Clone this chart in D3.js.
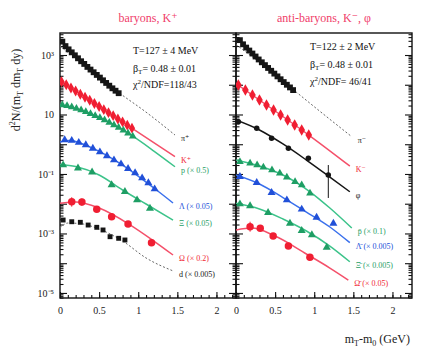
<!DOCTYPE html>
<html>
<head>
<meta charset="utf-8">
<script src="https://cdn.jsdelivr.net/npm/d3@7"></script>
<style>
  html, body { margin: 0; padding: 0; background: #fff; }
  svg { display: block; font-family: "Liberation Serif", "DejaVu Serif", serif; }
</style>
</head>
<body>
<svg id="chart" width="428" height="351"></svg>
<script>
// ---- tick labels ----
const xTickValues = [0, 0.5, 1, 1.5, 2];
const xTickLabels = ["0", "0.5", "1", "1.5", "2"];
const yTickValues = [1e3, 1e1, 1e-1, 1e-3, 1e-5];
const yTickLabels = ["10³", "10", "10⁻¹", "10⁻³", "10⁻⁵"];

// ---- panel headers and fit results ----
const panelTitles = ["baryons, K⁺", "anti-baryons, K⁻, φ"];
const fitTemperature = ["T=127 ± 4 MeV", "T=122 ± 2 MeV"];
const fitBeta = ["= 0.48 ± 0.01", "= 0.48 ± 0.01"];
const fitChi2 = ["/NDF=118/43", "/NDF= 46/41"];

// ---- measured spectra: [mT - m0 (GeV), d²N/(mT dmT dy)] ----
const piPlus = [[0.03,2820],[0.07,1995],[0.11,1549],[0.15,1230],[0.19,977],[0.23,776],[0.27,617],[0.31,501],[0.35,398],[0.39,324],[0.43,263],[0.47,214],[0.51,174],[0.55,141],[0.59,115],[0.63,93],[0.67,76],[0.71,63],[0.75,52]];
const kPlus = [[0.02,126],[0.08,100],[0.14,77.6],[0.20,61.7],[0.26,47.9],[0.32,38.0],[0.38,30.2],[0.44,23.4],[0.50,18.6],[0.56,14.5],[0.62,11.5],[0.68,9.12],[0.74,7.08],[0.80,5.62],[0.86,4.37],[0.92,3.47]];
const proton = [[0.03,20.8],[0.09,19.6],[0.15,17.9],[0.21,16.0],[0.27,14.2],[0.33,12.3],[0.39,10.6],[0.45,9.10],[0.51,7.73],[0.57,6.52],[0.63,5.42],[0.69,4.47],[0.75,3.65],[0.81,2.94],[0.87,2.35],[0.93,1.86]];
const lambda = [[0.06,1.39],[0.15,1.33],[0.24,1.14],[0.33,0.942],[0.42,0.718],[0.51,0.547],[0.60,0.402],[0.69,0.294],[0.78,0.216],[0.87,0.152],[0.96,0.108],[1.05,0.0731],[1.13,0.0497],[1.21,0.0312]];
const xi = [[0.04,0.200],[0.23,0.158],[0.41,0.116],[0.66,0.0426],[0.83,0.0253],[0.985,0.0133],[1.15,0.0070]];
const omega = [[0.15,0.0117],[0.28,0.0115],[0.47,0.00649],[0.66,0.00366],[0.87,0.00208],[1.17,0.000489]];
const deuteron = [[0.04,0.00283],[0.15,0.00248],[0.26,0.00237],[0.36,0.00192],[0.47,0.00161],[0.55,0.00131],[0.64,0.000778],[0.75,0.000687],[0.83,0.000603]];

const piMinus = [[0.05,3162],[0.09,2291],[0.13,1778],[0.17,1413],[0.21,1122],[0.25,891],[0.29,708],[0.33,569],[0.37,457],[0.41,367],[0.45,295],[0.49,237],[0.53,191],[0.57,153],[0.61,123],[0.65,100],[0.69,81.3],[0.73,66.1]];
const kMinus = [[0.03,97.9],[0.12,66.5],[0.21,45.2],[0.30,30.7],[0.39,20.8],[0.48,14.2],[0.57,9.62],[0.66,6.52],[0.75,4.43],[0.84,3.01],[0.93,2.04]];
const phi = [[0.03,5.71],[0.265,3.43],[0.455,1.58],[0.67,0.729],[0.925,0.336],[1.18,0.0923]];
const antiProton = [[0.05,0.258],[0.18,0.228],[0.27,0.200],[0.35,0.168],[0.46,0.136],[0.56,0.105],[0.65,0.0773],[0.755,0.0550],[0.84,0.0426],[0.946,0.0224]];
const antiLambda = [[0.05,0.0809],[0.265,0.0508],[0.455,0.0234],[0.65,0.0133],[0.84,0.00649],[1.03,0.00349],[1.245,0.00219]];
const antiXi = [[0.05,0.00977],[0.18,0.00838],[0.41,0.00498],[0.69,0.00219],[0.84,0.00124],[0.97,0.000887],[1.16,0.000342]];
const antiOmega = [[0.18,0.00169],[0.31,0.00149],[0.475,0.00082],[0.67,0.000378],[0.945,0.000158]];

// ---- error bars: [mT - m0, low, high] ----
const omegaErrors = [[0.15,0.00798,0.0165],[0.28,0.0085,0.0150]];
const phiErrors = [[1.18,0.0156,0.2]];
const antiOmegaErrors = [[0.18,0.00115,0.00248]];

// ---- blast-wave fit curves ----
const piPlusFit = [[0,1995],[0.4,295],[0.75,55],[1.1,12.0],[1.47,2.04]];
const kPlusFit = [[0,138],[0.5,18.6],[1.0,2.51],[1.47,0.38]];
const protonFit = [[0,21.4],[0.3,13.2],[0.6,5.96],[0.93,1.86],[1.2,0.59],[1.47,0.175]];
const lambdaFit = [[0,1.19],[0.12,1.33],[0.4,0.77],[0.8,0.2],[1.2,0.0337],[1.445,0.0106]];
const xiFit = [[0,0.208],[0.2,0.178],[0.5,0.0923],[0.8,0.0289],[1.1,0.00977],[1.445,0.00283]];
const omegaFit = [[0,0.0103],[0.2,0.0114],[0.5,0.00716],[0.9,0.00192],[1.2,0.000557],[1.445,0.000189]];
const deuteronFit = [[0,0.00152],[0.1,0.00224],[0.25,0.00216],[0.5,0.00141],[0.8,0.000557],[1.1,0.000150],[1.445,5.5e-5]];

const piMinusFit = [[0,2239],[0.4,355],[0.73,69.2],[1.1,11.2],[1.48,1.79]];
const kMinusFit = [[0,110],[0.5,13.1],[0.93,2.04],[1.455,0.185]];
const phiFit = [[0,6.52],[0.3,3.01],[0.6,1.02],[0.9,0.294],[1.2,0.079],[1.455,0.0253]];
const antiProtonFit = [[0,0.294],[0.3,0.185],[0.6,0.0923],[0.95,0.0247],[1.2,0.00716],[1.48,0.00152]];
const antiLambdaFit = [[0,0.0923],[0.3,0.046],[0.6,0.0161],[0.9,0.00526],[1.2,0.00165],[1.455,0.000489]];
const antiXiFit = [[0,0.0103],[0.3,0.00664],[0.6,0.00306],[0.9,0.00121],[1.2,0.000378],[1.455,0.000112]];
const antiOmegaFit = [[0,0.00131],[0.2,0.00152],[0.5,0.00082],[0.9,0.000204],[1.2,6.89e-5],[1.436,2.72e-5]];

// ---- series labels ----
const leftLabels = ["π⁺", "K⁺", "p (× 0.5)", "Λ (× 0.05)", "Ξ (× 0.05)", "Ω (× 0.2)", "d (× 0.005)"];
const rightLabels = ["π⁻", "K⁻", "φ", "p̄ (× 0.1)", "Λ̄ (× 0.005)", "Ξ̄ (× 0.005)", "Ω̄ (× 0.05)"];

// ---- colours ----
const BLACK = "#151515", RED = "#f01e32", PINK = "#f4506a", GREEN = "#1e9e64", LGREEN = "#3cc38a", BLUE = "#2150d8", LBLUE = "#3a70ec";

const panels = [
  { series: [
      { data: piPlus, fit: piPlusFit, label: leftLabels[0], color: BLACK, line: "#666", dashed: true, sym: d3.symbolSquare, size: 34 },
      { data: kPlus, fit: kPlusFit, label: leftLabels[1], color: RED, line: PINK, sym: d3.symbolDiamond, size: 34 },
      { data: proton, fit: protonFit, label: leftLabels[2], color: GREEN, line: LGREEN, sym: d3.symbolTriangle, size: 26 },
      { data: lambda, fit: lambdaFit, label: leftLabels[3], color: BLUE, line: LBLUE, sym: d3.symbolTriangle, size: 28 },
      { data: xi, fit: xiFit, label: leftLabels[4], color: GREEN, line: LGREEN, sym: d3.symbolTriangle, size: 28 },
      { data: omega, fit: omegaFit, label: leftLabels[5], color: RED, line: PINK, sym: d3.symbolCircle, size: 44, errors: omegaErrors },
      { data: deuteron, fit: deuteronFit, label: leftLabels[6], color: BLACK, line: "#666", dashed: true, sym: d3.symbolSquare, size: 24 }
    ] },
  { series: [
      { data: piMinus, fit: piMinusFit, label: rightLabels[0], color: BLACK, line: "#666", dashed: true, sym: d3.symbolSquare, size: 34 },
      { data: kMinus, fit: kMinusFit, label: rightLabels[1], color: RED, line: PINK, sym: d3.symbolDiamond, size: 38 },
      { data: phi, fit: phiFit, label: rightLabels[2], color: BLACK, line: BLACK, sym: d3.symbolCircle, size: 24, errors: phiErrors },
      { data: antiProton, fit: antiProtonFit, label: rightLabels[3], color: GREEN, line: LGREEN, sym: d3.symbolTriangle, size: 26 },
      { data: antiLambda, fit: antiLambdaFit, label: rightLabels[4], color: BLUE, line: LBLUE, sym: d3.symbolTriangle, size: 28 },
      { data: antiXi, fit: antiXiFit, label: rightLabels[5], color: GREEN, line: LGREEN, sym: d3.symbolTriangle, size: 28 },
      { data: antiOmega, fit: antiOmegaFit, label: rightLabels[6], color: RED, line: PINK, sym: d3.symbolCircle, size: 44, errors: antiOmegaErrors }
    ] }
];

const svg = d3.select("#chart");
const plotTop = 33, plotBottom = 298;
const panelX = [[60, 236], [236, 412]];

const y = d3.scaleLog().domain([Math.pow(10, -5.17), Math.pow(10, 3.74)]).range([plotBottom, plotTop]);

// minor decade ticks 2..9 × 10^k
const minorY = [];
for (let k = -6; k <= 3; k++) for (let m = 2; m <= 9; m++) {
  const v = m * Math.pow(10, k);
  if (v > y.domain()[0] && v < y.domain()[1]) minorY.push(v);
}
const majorY = d3.range(-5, 4).map(k => Math.pow(10, k));
const minorX = d3.range(0, 23).map(i => i / 10);

function styleAxis(g) {
  g.select(".domain").remove();
  g.selectAll(".tick line").attr("stroke", "#111").attr("stroke-width", 1.1);
  g.selectAll(".tick text").attr("fill", "#222").attr("font-family", "Liberation Serif, serif").attr("font-size", 10);
}

panels.forEach((panel, pi) => {
  const [x0, x1] = panelX[pi];
  const x = d3.scaleLinear().domain([0, 2.25]).range([x0, x1]);

  const clipId = "clip" + pi;
  svg.append("clipPath").attr("id", clipId)
    .append("rect").attr("x", x0).attr("y", plotTop).attr("width", x1 - x0).attr("height", plotBottom - plotTop);

  // x axis: major + minor ticks pointing inward
  svg.append("g").attr("transform", `translate(0,${plotBottom})`)
    .call(d3.axisBottom(x).tickValues(minorX).tickSize(-3).tickFormat(""))
    .call(styleAxis);
  svg.append("g").attr("transform", `translate(0,${plotBottom})`)
    .call(d3.axisBottom(x).tickValues(xTickValues).tickSize(-6).tickPadding(9)
      .tickFormat((d, i) => xTickLabels[i]))
    .call(styleAxis);

  // y ticks on both vertical edges of the panel
  svg.append("g").attr("transform", `translate(${x0},0)`)
    .call(d3.axisLeft(y).tickValues(minorY).tickSize(-3.5).tickFormat(""))
    .call(styleAxis);
  svg.append("g").attr("transform", `translate(${x0},0)`)
    .call(d3.axisLeft(y).tickValues(majorY).tickSize(-7).tickFormat(""))
    .call(styleAxis);
  svg.append("g").attr("transform", `translate(${x1},0)`)
    .call(d3.axisRight(y).tickValues(minorY).tickSize(-3.5).tickFormat(""))
    .call(styleAxis);
  svg.append("g").attr("transform", `translate(${x1},0)`)
    .call(d3.axisRight(y).tickValues(majorY).tickSize(-7).tickFormat(""))
    .call(styleAxis);

  if (pi === 0) {
    svg.append("g").attr("transform", `translate(${x0},0)`)
      .call(d3.axisLeft(y).tickValues(yTickValues).tickSize(0).tickPadding(6)
        .tickFormat((d, i) => yTickLabels[i]))
      .call(styleAxis);
  }

  // frame
  svg.append("rect").attr("x", x0).attr("y", plotTop).attr("width", x1 - x0).attr("height", plotBottom - plotTop)
    .attr("fill", "none").attr("stroke", "#111").attr("stroke-width", 1.4);

  const plot = svg.append("g").attr("clip-path", `url(#${clipId})`);
  const line = d3.line().x(d => x(d[0])).y(d => y(d[1])).curve(d3.curveMonotoneX);

  panel.series.forEach(s => {
    plot.append("path").datum(s.fit)
      .attr("d", line).attr("fill", "none")
      .attr("stroke", s.line).attr("stroke-width", s.dashed ? 1 : 1.5)
      .attr("stroke-dasharray", s.dashed ? "2,2" : null);

    if (s.errors) {
      plot.selectAll(null).data(s.errors).join("line")
        .attr("x1", d => x(d[0])).attr("x2", d => x(d[0]))
        .attr("y1", d => y(d[1])).attr("y2", d => y(d[2]))
        .attr("stroke", s.color).attr("stroke-width", 1);
    }

    const sym = d3.symbol().type(s.sym).size(s.size);
    plot.selectAll(null).data(s.data).join("path")
      .attr("d", sym)
      .attr("transform", d => `translate(${x(d[0])},${y(d[1])})`)
      .attr("fill", s.color);

    const end = s.fit[s.fit.length - 1];
    svg.append("text")
      .attr("x", x(end[0]) + 6).attr("y", y(end[1]) + 3)
      .attr("dy", "0.35em")
      .attr("font-size", 8).attr("fill", s.color)
      .text(s.label);
  });

  // panel header
  svg.append("text").attr("x", (x0 + x1) / 2).attr("y", 22)
    .attr("text-anchor", "middle").attr("font-size", 12).attr("fill", "#f0406a")
    .text(panelTitles[pi]);

  // fit results
  const tx = pi === 0 ? 133 : 310;
  const ty = pi === 0 ? [54, 72, 88] : [50, 68, 85];
  const info = svg.append("g").attr("font-size", 10).attr("fill", "#111");
  info.append("text").attr("x", tx).attr("y", ty[0]).text(fitTemperature[pi]);
  const b = info.append("text").attr("x", tx).attr("y", ty[1]);
  b.append("tspan").text("β");
  b.append("tspan").attr("font-size", 7).attr("dy", 2).text("T");
  b.append("tspan").attr("dy", -2).text(fitBeta[pi]);
  const c = info.append("text").attr("x", tx).attr("y", ty[2]);
  c.append("tspan").text("χ");
  c.append("tspan").attr("font-size", 7).attr("dy", -4).text("2");
  c.append("tspan").attr("dy", 4).text(fitChi2[pi]);
});

// axis titles
const yt = svg.append("text")
  .attr("transform", "translate(20,90) rotate(-90)")
  .attr("text-anchor", "middle").attr("font-size", 12).attr("fill", "#222");
yt.append("tspan").text("d");
yt.append("tspan").attr("font-size", 8).attr("dy", -5).text("2");
yt.append("tspan").attr("dy", 5).text("N/(m");
yt.append("tspan").attr("font-size", 8).attr("dy", 3).text("T");
yt.append("tspan").attr("dy", -3).text(" dm");
yt.append("tspan").attr("font-size", 8).attr("dy", 3).text("T");
yt.append("tspan").attr("dy", -3).text(" dy)");

const xt = svg.append("text").attr("x", 410).attr("y", 343)
  .attr("text-anchor", "end").attr("font-size", 12).attr("fill", "#222");
xt.append("tspan").text("m");
xt.append("tspan").attr("font-size", 8).attr("dy", 3).text("T");
xt.append("tspan").attr("dy", -3).text("-m");
xt.append("tspan").attr("font-size", 8).attr("dy", 3).text("0");
xt.append("tspan").attr("dy", -3).text(" (GeV)");
</script>
</body>
</html>
